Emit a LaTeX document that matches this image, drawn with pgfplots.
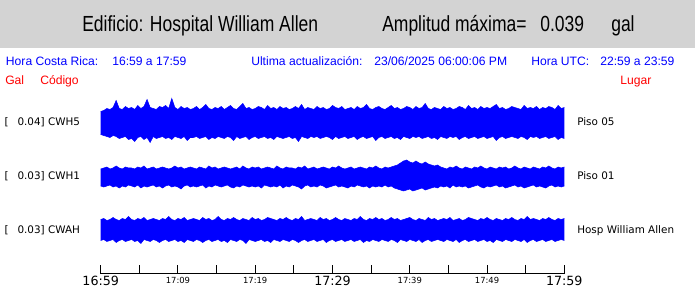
\documentclass[border=0pt]{standalone}
\usepackage{pgfplots}
\pgfplotsset{compat=1.18}
\usepackage{pgfplotstable}
\usepgfplotslibrary{fillbetween}
\usepackage{fontspec}
\setmainfont{Liberation Sans}
\newfontfamily\hdr[FakeStretch=0.8]{Liberation Sans}
\newfontfamily\dvs{DejaVu Sans}
\definecolor{hdrgray}{HTML}{D3D3D3}
\newcommand\bigt[1]{{\dvs\fontsize{9.5}{10}\selectfont #1}}
\newcommand\smt[1]{\raisebox{1.5pt}{\dvs\fontsize{6.3}{7}\selectfont #1}}

% envelopes (display units: 1 = 1 px), sample every 0.4 min
\pgfplotstableread[row sep=\\]{
v\\
11\\12\\14\\13\\15\\22\\14\\13\\16\\14\\
15\\13\\17\\14\\16\\23\\15\\14\\13\\16\\
15\\17\\14\\24\\15\\13\\16\\14\\15\\13\\
14\\16\\13\\15\\18\\14\\13\\15\\14\\16\\
13\\15\\17\\14\\13\\16\\19\\14\\15\\13\\
14\\16\\15\\13\\17\\14\\15\\13\\16\\14\\
15\\13\\14\\16\\14\\18\\13\\15\\14\\13\\
16\\14\\15\\13\\14\\17\\15\\14\\16\\13\\
14\\15\\13\\16\\14\\15\\18\\14\\13\\15\\
16\\14\\13\\15\\17\\14\\15\\13\\14\\16\\
15\\13\\16\\14\\15\\19\\14\\13\\15\\14\\
13\\16\\14\\15\\13\\14\\16\\15\\13\\17\\
14\\15\\13\\16\\14\\15\\14\\16\\18\\14\\
15\\13\\14\\16\\15\\14\\13\\17\\14\\15\\
14\\16\\13\\15\\14\\16\\15\\13\\17\\14\\
15\\
}\tAhi
\pgfplotstableread[row sep=\\]{
v\\
12\\13\\14\\15\\13\\14\\16\\15\\14\\17\\
16\\19\\15\\14\\17\\15\\20\\14\\16\\15\\
14\\16\\15\\17\\14\\15\\16\\14\\18\\15\\
15\\14\\16\\15\\14\\17\\15\\16\\14\\15\\
16\\14\\15\\18\\14\\16\\15\\14\\17\\15\\
14\\16\\15\\14\\16\\15\\17\\14\\15\\16\\
15\\14\\16\\15\\19\\14\\15\\16\\14\\15\\
14\\16\\15\\14\\15\\17\\14\\16\\15\\14\\
16\\15\\14\\17\\15\\14\\16\\15\\14\\18\\
15\\14\\16\\15\\14\\16\\15\\17\\14\\15\\
16\\14\\15\\14\\16\\15\\14\\16\\15\\17\\
14\\15\\16\\14\\15\\14\\17\\15\\14\\16\\
15\\14\\16\\15\\14\\16\\15\\14\\18\\15\\
14\\16\\15\\14\\15\\16\\14\\15\\17\\14\\
15\\14\\16\\15\\14\\16\\15\\14\\17\\15\\
16\\
}\tAlo
\pgfplotstableread[row sep=\\]{
v\\
8\\9\\10\\8\\9\\11\\9\\8\\10\\9\\
9\\8\\10\\9\\11\\8\\9\\10\\8\\9\\
10\\9\\8\\9\\11\\9\\10\\8\\9\\10\\
9\\8\\10\\9\\8\\11\\9\\10\\8\\9\\
10\\9\\8\\9\\10\\8\\11\\9\\8\\10\\
9\\10\\8\\9\\10\\9\\8\\11\\9\\8\\
10\\9\\9\\8\\10\\9\\11\\8\\9\\10\\
8\\9\\10\\9\\8\\10\\9\\11\\9\\8\\
9\\10\\8\\9\\10\\9\\8\\10\\9\\11\\
9\\8\\10\\9\\10\\11\\12\\14\\16\\17\\
15\\14\\16\\14\\13\\15\\13\\12\\11\\12\\
10\\9\\8\\10\\9\\11\\9\\8\\10\\9\\
8\\10\\9\\11\\9\\8\\10\\9\\8\\10\\
9\\10\\8\\9\\11\\9\\8\\10\\9\\8\\
10\\9\\8\\10\\9\\11\\9\\8\\10\\9\\
10\\
}\tBhi
\pgfplotstableread[row sep=\\]{
v\\
9\\10\\9\\8\\10\\9\\11\\9\\10\\8\\
9\\10\\8\\11\\9\\10\\9\\8\\10\\9\\
11\\9\\8\\10\\9\\10\\12\\9\\8\\10\\
9\\10\\9\\8\\11\\9\\10\\8\\9\\10\\
9\\8\\10\\11\\9\\10\\8\\9\\10\\9\\
10\\9\\11\\8\\9\\10\\9\\10\\8\\11\\
9\\10\\8\\9\\10\\12\\9\\8\\10\\9\\
10\\8\\9\\11\\10\\9\\8\\10\\9\\10\\
11\\9\\10\\8\\9\\10\\9\\11\\9\\10\\
9\\10\\8\\10\\9\\11\\12\\13\\14\\13\\
12\\14\\13\\12\\11\\13\\12\\11\\10\\11\\
9\\10\\9\\11\\8\\10\\9\\10\\9\\11\\
10\\9\\8\\10\\11\\9\\10\\9\\8\\10\\
9\\11\\10\\9\\8\\10\\9\\11\\10\\9\\
8\\10\\9\\10\\11\\9\\8\\10\\9\\10\\
9\\
}\tBlo
\pgfplotstableread[row sep=\\]{
v\\
10\\11\\9\\10\\12\\10\\9\\11\\10\\13\\
10\\9\\11\\10\\12\\9\\10\\11\\10\\9\\
11\\10\\13\\10\\9\\11\\10\\12\\9\\10\\
11\\10\\9\\12\\10\\11\\9\\10\\13\\10\\
9\\11\\10\\12\\10\\9\\11\\10\\9\\12\\
10\\11\\9\\10\\12\\11\\10\\9\\11\\10\\
12\\10\\9\\11\\10\\13\\9\\10\\11\\10\\
9\\12\\10\\11\\9\\10\\12\\10\\9\\11\\
10\\9\\11\\10\\13\\10\\9\\11\\10\\12\\
10\\11\\9\\10\\12\\10\\11\\9\\10\\11\\
12\\10\\9\\11\\10\\9\\12\\10\\11\\9\\
10\\11\\10\\12\\9\\10\\11\\9\\10\\12\\
11\\10\\9\\11\\10\\12\\10\\9\\11\\10\\
9\\11\\10\\12\\10\\9\\11\\10\\13\\10\\
11\\10\\9\\11\\10\\12\\10\\9\\11\\10\\
11\\
}\tChi
\pgfplotstableread[row sep=\\]{
v\\
11\\10\\12\\11\\10\\13\\11\\10\\12\\11\\
10\\12\\11\\14\\10\\11\\12\\10\\11\\13\\
11\\10\\12\\11\\10\\12\\11\\13\\10\\11\\
12\\10\\11\\13\\11\\10\\12\\11\\10\\12\\
11\\13\\10\\11\\12\\10\\11\\14\\10\\11\\
12\\11\\10\\12\\11\\13\\10\\11\\12\\10\\
11\\12\\10\\11\\13\\11\\10\\12\\11\\10\\
12\\11\\10\\13\\11\\10\\12\\11\\10\\12\\
11\\10\\12\\11\\10\\13\\11\\12\\10\\11\\
12\\10\\11\\12\\10\\11\\13\\10\\11\\12\\
10\\11\\12\\10\\13\\11\\10\\12\\11\\10\\
11\\12\\10\\11\\12\\10\\13\\11\\10\\12\\
11\\10\\12\\11\\10\\12\\11\\13\\10\\11\\
12\\10\\11\\12\\10\\11\\12\\10\\13\\11\\
10\\12\\11\\10\\12\\11\\10\\12\\11\\10\\
11\\
}\tClo

\begin{document}
\begin{tikzpicture}[x=0.75pt,y=0.75pt]
\begin{scope}[shift={(-100.7,-14)}]
\path (0,0) rectangle (695,288);
\fill[hdrgray] (0,239.5) rectangle (695,288);
% header
\begin{scope}[every node/.style={anchor=base west, inner sep=0pt, font=\hdr\fontsize{16.4}{18}\selectfont}]
\node at (82,256.3) {Edificio: Hospital William Allen};
\node at (382,256.3) {Amplitud máxima=};
\node at (540,256.3) {0.039};
\node at (611,256.3) {gal};
\end{scope}
\begin{scope}[every node/.style={anchor=base west, inner sep=0pt, text=blue, font=\fontsize{9.1}{11}\selectfont}]
\node at (5.7,222.3) {Hora Costa Rica:};
\node at (112,222.3) {16:59 a 17:59};
\node at (251,222.3) {Ultima actualización:};
\node at (374,222.3) {23/06/2025 06:00:06 PM};
\node at (531,222.3) {Hora UTC:};
\node at (600,222.3) {22:59 a 23:59};
\end{scope}
\begin{scope}[every node/.style={anchor=base west, inner sep=0pt, text=red, font=\fontsize{9.1}{11}\selectfont}]
\node at (5,203.3) {Gal};
\node at (40,203.3) {Código};
\node at (620,203.3) {Lugar};
\end{scope}
\begin{scope}[every node/.style={anchor=base west, inner sep=0pt, font=\dvs\fontsize{7.8}{9}\selectfont}]
\node at (4.3,162) {[};
\node at (17.3,162) {0.04] CWH5};
\node at (4.3,108.5) {[};
\node at (17.3,108.5) {0.03] CWH1};
\node at (4.3,54.7) {[};
\node at (17.3,54.7) {0.03] CWAH};
\node at (577,162) {Piso 05};
\node at (577,108.5) {Piso 01};
\node at (577,54.7) {Hosp William Allen};
\end{scope}
\end{scope}
\begin{axis}[
  scale only axis, width=347.7pt, height=138pt,
  xmin=0, xmax=60, ymin=14, ymax=198,
  axis x line*=bottom, axis y line=none,
  axis line style={black, line width=0.75pt},
  clip=false,
  xtick={0,5,...,60},
  xticklabels={\bigt{16:59},,\smt{17:09},,\smt{17:19},,\bigt{17:29},,\smt{17:39},,\smt{17:49},,\bigt{17:59}},
  tick align=inside,
  major tick length=6.75pt,
  xtick style={black, line width=0.75pt},
  xticklabel style={anchor=base, yshift=-9pt, inner sep=0pt},
  ytick=\empty,
]
\addplot[name path=ah, draw=blue, line width=0.4pt] table[x index=0, y index=0, x expr=\coordindex*0.4, y expr=165.5+\thisrow{v}] {\tAhi};
\addplot[name path=al, draw=blue, line width=0.4pt] table[x index=0, y index=0, x expr=\coordindex*0.4, y expr=165.5-\thisrow{v}] {\tAlo};
\addplot[blue] fill between[of=ah and al];
\addplot[name path=bh, draw=blue, line width=0.4pt] table[x index=0, y index=0, x expr=\coordindex*0.4, y expr=111+\thisrow{v}] {\tBhi};
\addplot[name path=bl, draw=blue, line width=0.4pt] table[x index=0, y index=0, x expr=\coordindex*0.4, y expr=111-\thisrow{v}] {\tBlo};
\addplot[blue] fill between[of=bh and bl];
\addplot[name path=ch, draw=blue, line width=0.4pt] table[x index=0, y index=0, x expr=\coordindex*0.4, y expr=58.5+\thisrow{v}] {\tChi};
\addplot[name path=cl, draw=blue, line width=0.4pt] table[x index=0, y index=0, x expr=\coordindex*0.4, y expr=58.5-\thisrow{v}] {\tClo};
\addplot[blue] fill between[of=ch and cl];
\end{axis}
\end{tikzpicture}
\end{document}
